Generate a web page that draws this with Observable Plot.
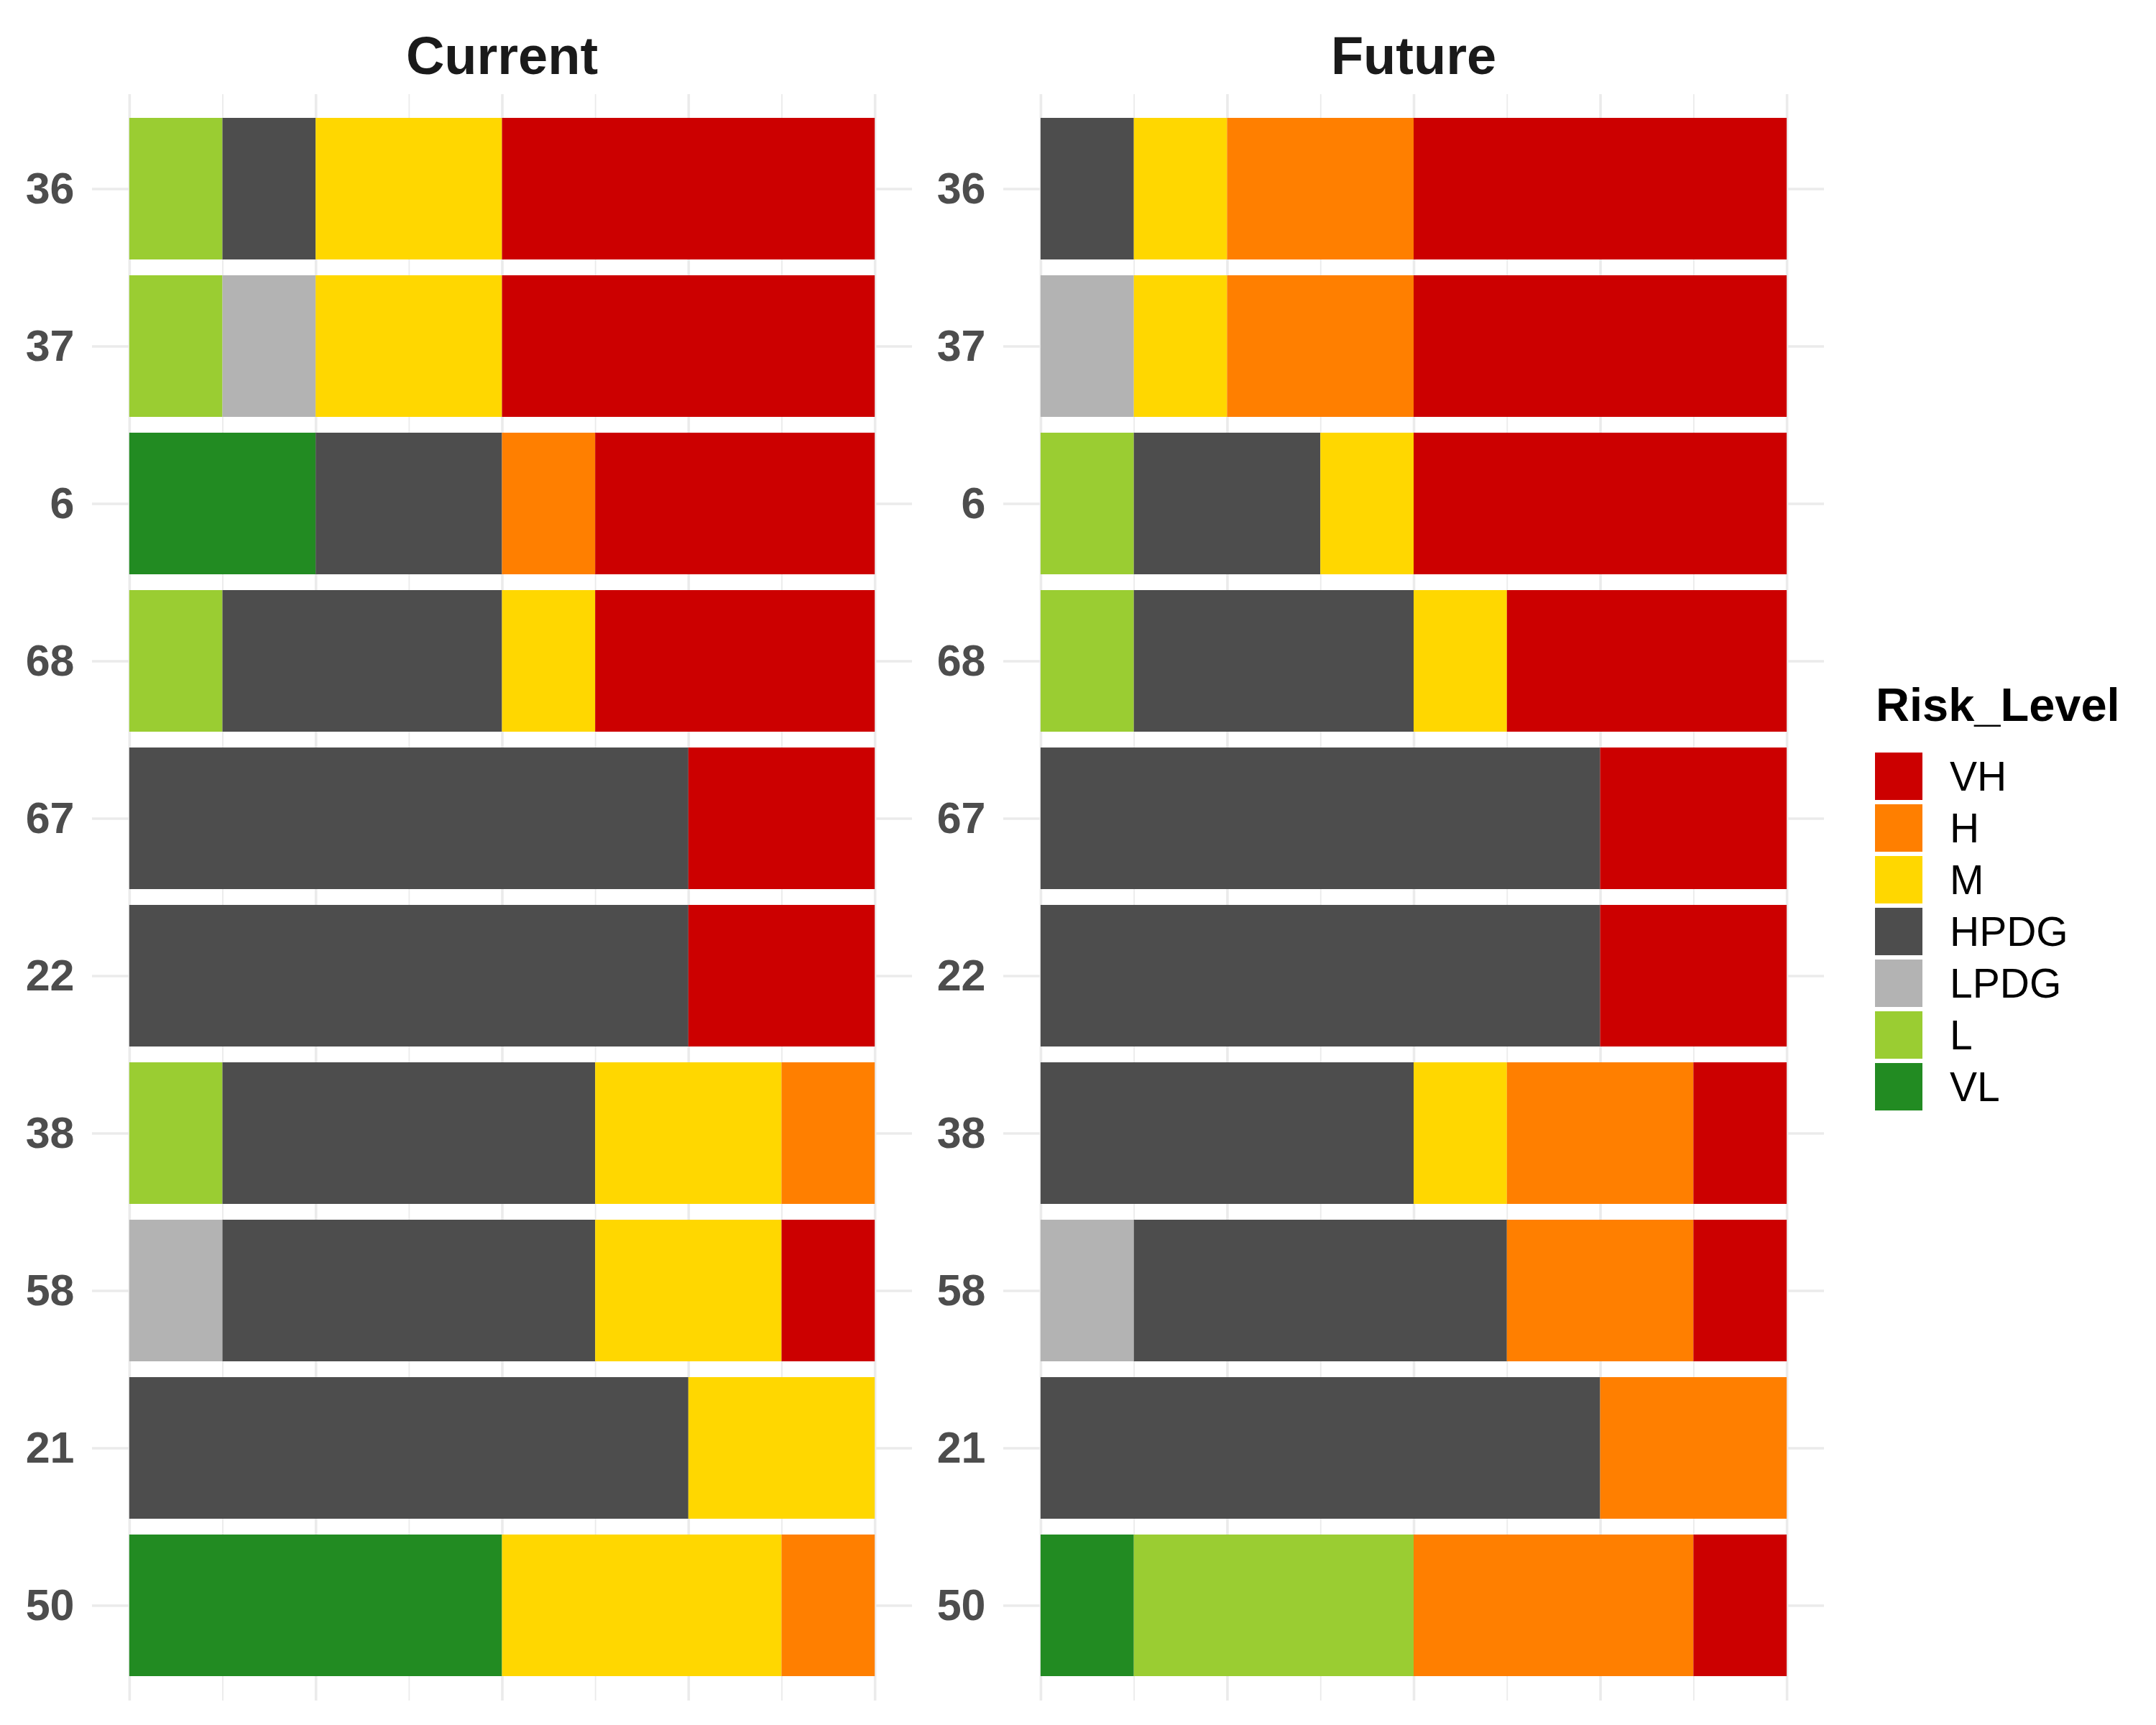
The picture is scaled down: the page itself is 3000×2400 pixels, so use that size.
<!DOCTYPE html>
<html>
<head>
<meta charset="utf-8">
<script src="https://cdn.jsdelivr.net/npm/d3@7"></script>
<script src="https://cdn.jsdelivr.net/npm/@observablehq/plot@0.6"></script>
<style>
  html, body { margin: 0; padding: 0; background: white; }
  #root { position: relative; width: 3000px; height: 2400px; background: white; font-family: "Liberation Sans", Arial, sans-serif; overflow: hidden; }
  .panel { position: absolute; top: 0; }
  .strip { position: absolute; font-size: 74px; font-weight: bold; color: #1A1A1A; line-height: 74px; white-space: nowrap; transform: translateX(-50%); }
  .legend-title { position: absolute; left: 2610px; top: 948px; font-size: 65px; font-weight: bold; color: #000; line-height: 65px; white-space: nowrap; }
  .key { position: absolute; left: 2609px; width: 66px; height: 66px; }
  .key-label { position: absolute; left: 2713px; font-size: 57px; color: #000; line-height: 66px; white-space: nowrap; }
</style>
</head>
<body>
<div id="root"></div>
<script>
// ---- Data ----
const sites = ["36", "37", "6", "68", "67", "22", "38", "58", "21", "50"];
const riskLevels = ["VH", "H", "M", "HPDG", "LPDG", "L", "VL"];           // legend order
const stackOrder = ["VL", "L", "LPDG", "HPDG", "M", "H", "VH"];          // left-to-right order
const riskColors = ["#CC0000", "#FF7F00", "#FFD700", "#4D4D4D", "#B3B3B3", "#9ACD32", "#228B22"];
const panels = ["Current", "Future"];

// Current scenario: counts per site (in sites order)
const currentVL   = [0, 0, 2, 0, 0, 0, 0, 0, 0, 4];
const currentL    = [1, 1, 0, 1, 0, 0, 1, 0, 0, 0];
const currentLPDG = [0, 1, 0, 0, 0, 0, 0, 1, 0, 0];
const currentHPDG = [1, 0, 2, 3, 6, 6, 4, 4, 6, 0];
const currentM    = [2, 2, 0, 1, 0, 0, 2, 2, 2, 3];
const currentH    = [0, 0, 1, 0, 0, 0, 1, 0, 0, 1];
const currentVH   = [4, 4, 3, 3, 2, 2, 0, 1, 0, 0];

// Future scenario
const futureVL   = [0, 0, 0, 0, 0, 0, 0, 0, 0, 1];
const futureL    = [0, 0, 1, 1, 0, 0, 0, 0, 0, 3];
const futureLPDG = [0, 1, 0, 0, 0, 0, 0, 1, 0, 0];
const futureHPDG = [1, 0, 2, 3, 6, 6, 4, 4, 6, 0];
const futureM    = [1, 1, 1, 1, 0, 0, 1, 0, 0, 0];
const futureH    = [2, 2, 0, 0, 0, 0, 2, 2, 2, 3];
const futureVH   = [4, 4, 4, 3, 2, 2, 1, 1, 0, 1];

const xMajorTicks = [0, 2, 4, 6, 8];
const xMinorTicks = [1, 3, 5, 7];

// ---- Build tables ----
function buildTable(series) {
  const rows = [];
  for (const [level, vals] of Object.entries(series)) {
    vals.forEach((v, i) => { if (v > 0) rows.push({site: sites[i], level, value: v}); });
  }
  return rows;
}
const tables = {
  Current: buildTable({VL: currentVL, L: currentL, LPDG: currentLPDG, HPDG: currentHPDG, M: currentM, H: currentH, VH: currentVH}),
  Future: buildTable({VL: futureVL, L: futureL, LPDG: futureLPDG, HPDG: futureHPDG, M: futureM, H: futureH, VH: futureVH})
};

const root = document.getElementById("root");
const panelLefts = [0, 1268];
const panelMarginRight = [31, 30];

panels.forEach((name, k) => {
  const chart = Plot.plot({
    width: 1300,
    height: 2400,
    marginLeft: 128,
    marginRight: panelMarginRight[k],
    marginTop: 131,
    marginBottom: 34,
    style: {fontFamily: "Liberation Sans, Arial, sans-serif", background: "transparent", overflow: "visible"},
    x: {domain: [-0.4, 8.4], axis: null},
    y: {domain: sites, paddingInner: 0.1, paddingOuter: 0.15, align: 0.5, axis: null},
    color: {domain: riskLevels, range: riskColors},
    marks: [
      Plot.gridX({ticks: xMinorTicks, stroke: "#EBEBEB", strokeOpacity: 1, strokeWidth: 1.8}),
      Plot.gridX({ticks: xMajorTicks, stroke: "#EBEBEB", strokeOpacity: 1, strokeWidth: 3.6}),
      Plot.gridY({stroke: "#EBEBEB", strokeOpacity: 1, strokeWidth: 3.6}),
      Plot.axisY({tickSize: 0, tickPadding: 25, fontSize: 61, fontWeight: "bold", color: "#4D4D4D", label: null}),
      Plot.barX(tables[name], Plot.stackX({x: "value", y: "site", fill: "level", order: stackOrder}))
    ]
  });
  const wrap = document.createElement("div");
  wrap.className = "panel";
  wrap.style.left = panelLefts[k] + "px";
  wrap.appendChild(chart);
  root.appendChild(wrap);

  const strip = document.createElement("div");
  strip.className = "strip";
  strip.textContent = name;
  const center = panelLefts[k] + 128 + (1300 - 128 - panelMarginRight[k]) / 2;
  strip.style.left = center + "px";
  strip.style.top = "41px";
  root.appendChild(strip);
});

// ---- Legend ----
const lt = document.createElement("div");
lt.className = "legend-title";
lt.textContent = "Risk_Level";
root.appendChild(lt);
riskLevels.forEach((lvl, i) => {
  const top = 1047 + i * 72;
  const key = document.createElement("div");
  key.className = "key";
  key.style.top = top + "px";
  key.style.background = riskColors[i];
  root.appendChild(key);
  const lab = document.createElement("div");
  lab.className = "key-label";
  lab.style.top = top + "px";
  lab.textContent = lvl;
  root.appendChild(lab);
});
</script>
</body>
</html>
